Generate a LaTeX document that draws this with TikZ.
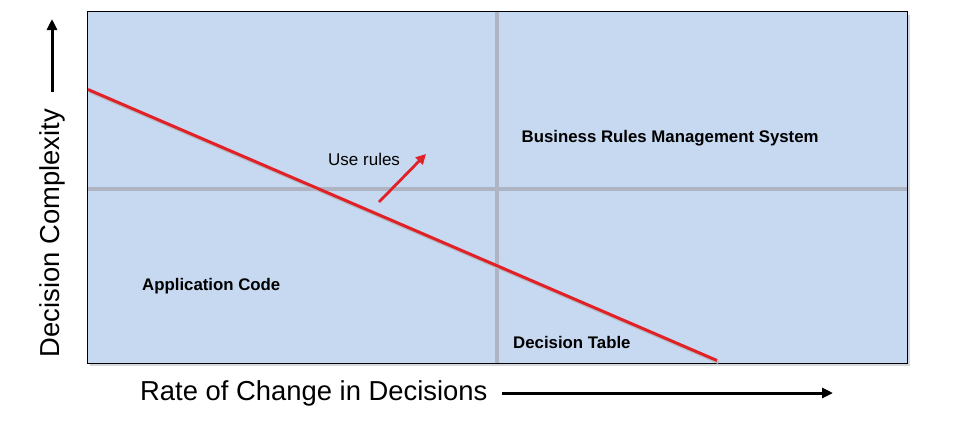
\documentclass[tikz,border=0pt]{standalone}
\usepackage{fontspec}
\setmainfont{Liberation Sans}
\usetikzlibrary{arrows.meta}
\definecolor{boxblue}{HTML}{C6D9F0}
\definecolor{divgray}{HTML}{AEB4C2}
\definecolor{redline}{HTML}{E02228}
\definecolor{shadowgray}{HTML}{B8BCC4}
\tikzset{
  lbl/.style={inner sep=0pt, anchor=west, font=\fontsize{17}{20}\selectfont},
  blbl/.style={lbl, font=\fontsize{16.8}{20}\selectfont\bfseries},
  axislbl/.style={inner sep=0pt, font=\fontsize{27.4}{32}\selectfont},
  axisarrow/.style={line width=3pt, -{Triangle[length=11pt,width=10pt]}},
  divider/.style={divgray, line width=4pt},
}
\begin{document}
\begin{tikzpicture}[x=1pt,y=-1pt]
\useasboundingbox (0,0) rectangle (969,421);
% box corners
\coordinate (tl) at (87,11.5);
\coordinate (br) at (907,363);
\coordinate (tlS) at (90,14.5);
\coordinate (brS) at (910,366);
\fill[shadowgray!60] (tlS) rectangle (brS);
\fill[boxblue] (tl) rectangle (br);
% dividers
\coordinate (vt) at (497,11.5);
\coordinate (vb) at (497,363);
\coordinate (hl) at (87,188.5);
\coordinate (hr) at (907,188.5);
\draw[divider] (vt) -- (vb);
\draw[divider] (hl) -- (hr);
\draw[black, line width=1pt] (tl) rectangle (br);
% red line
\coordinate (r1) at (88,89.5);
\coordinate (r2) at (717,360.5);
\draw[shadowgray, line width=3pt] ([shift={(1.5,2)}]r1) -- ([shift={(1.5,2)}]r2);
\draw[redline, line width=3pt] (r1) -- (r2);
% use rules arrow
\coordinate (u1) at (379,202);
\coordinate (u2) at (426,154);
\draw[redline, line width=2.8pt, -{Triangle[length=10pt,width=10pt]}] (u1) -- (u2);
\node[lbl] (use) at (328,159) {Use rules};
% labels
\node[blbl] (brms) at (521.5,138) {Business Rules Management System};
\node[blbl] (app) at (142,286.5) {Application Code};
\node[blbl] (dt) at (513,342) {Decision Table};
% axes
\node[axislbl, anchor=west] (xlab) at (140,393) {Rate of Change in Decisions};
\coordinate (xa1) at (502,393);
\coordinate (xa2) at (833,393);
\draw[axisarrow] (xa1) -- (xa2);
\node[axislbl, rotate=90] (ylab) at (52,233) {Decision Complexity};
\coordinate (ya1) at (52,92);
\coordinate (ya2) at (52,19);
\draw[axisarrow] (ya1) -- (ya2);
\end{tikzpicture}
\end{document}
